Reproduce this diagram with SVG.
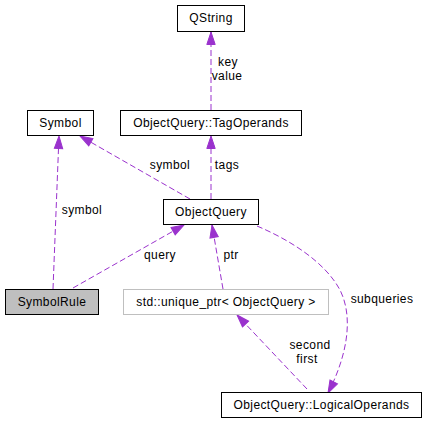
<svg xmlns="http://www.w3.org/2000/svg" width="427" height="424" viewBox="0 0 427 424">
<style>
.box{fill:#ffffff;stroke:#000000;stroke-width:1}
.gray{fill:#ffffff;stroke:#bfbfbf;stroke-width:1}
.cur{fill:#bfbfbf;stroke:#000000;stroke-width:1}
.t{font-family:"Liberation Sans",Arial,sans-serif;font-size:12px;letter-spacing:0.4px;fill:#000000;text-anchor:middle}
.e{fill:none;stroke:#9a32cd;stroke-width:1;stroke-dasharray:6,3}
</style>
<defs>
<marker id="ah" markerUnits="userSpaceOnUse" markerWidth="16" markerHeight="12" refX="13" refY="5" orient="auto" viewBox="0 0 16 10" overflow="visible">
<path d="M0.5,0.8 L13,5 L0.5,9.2 Z" fill="#9a32cd" stroke="#9a32cd" stroke-width="1"/>
</marker>
</defs>
<rect width="427" height="424" fill="#ffffff"/>
<g id="connectors">
<path class="e" d="M211,110 L211,32" marker-end="url(#ah)"/>
<text class="t" x="228" y="66">key</text>
<text class="t" x="227" y="80">value</text>
<path class="e" d="M190,199 L80,136" marker-end="url(#ah)"/>
<text class="t" x="170" y="169">symbol</text>
<path class="e" d="M211,199 L211,136" marker-end="url(#ah)"/>
<text class="t" x="227" y="169">tags</text>
<path class="e" d="M53,289 L59,136" marker-end="url(#ah)"/>
<text class="t" x="82" y="214">symbol</text>
<path class="e" d="M73,288 L184,225" marker-end="url(#ah)"/>
<text class="t" x="160" y="259">query</text>
<path class="e" d="M223,289 L212,225" marker-end="url(#ah)"/>
<text class="t" x="231" y="259">ptr</text>
<path class="e" d="M257,226 C290,240 325,262 340,290 C355,320 345,360 328,393" marker-end="url(#ah)"/>
<text class="t" x="382" y="303">subqueries</text>
<path class="e" d="M307,389 L237,315" marker-end="url(#ah)"/>
<text class="t" x="310" y="349">second</text>
<text class="t" x="307" y="363">first</text>
</g>
<g id="QString">
<rect class="box" x="177.5" y="5.5" width="67" height="26"/>
<text class="t" x="211" y="22">QString</text>
</g>
<g id="Symbol">
<rect class="box" x="27.5" y="110.5" width="66" height="25"/>
<text class="t" x="60.5" y="127">Symbol</text>
</g>
<g id="TagOperands">
<rect class="box" x="120.5" y="110.5" width="181" height="25"/>
<text class="t" x="211" y="127">ObjectQuery::TagOperands</text>
</g>
<g id="ObjectQuery">
<rect class="box" x="163.5" y="199.5" width="95" height="25"/>
<text class="t" x="211" y="216">ObjectQuery</text>
</g>
<g id="SymbolRule">
<rect class="cur" x="5.5" y="289.5" width="93" height="25"/>
<text class="t" x="52" y="306">SymbolRule</text>
</g>
<g id="unique_ptr">
<rect class="gray" x="123.5" y="289.5" width="205" height="25"/>
<text class="t" x="226" y="306">std::unique_ptr&lt; ObjectQuery &gt;</text>
</g>
<g id="LogicalOperands">
<rect class="box" x="221.5" y="392.5" width="200" height="25"/>
<text class="t" x="321.5" y="409">ObjectQuery::LogicalOperands</text>
</g>
</svg>
